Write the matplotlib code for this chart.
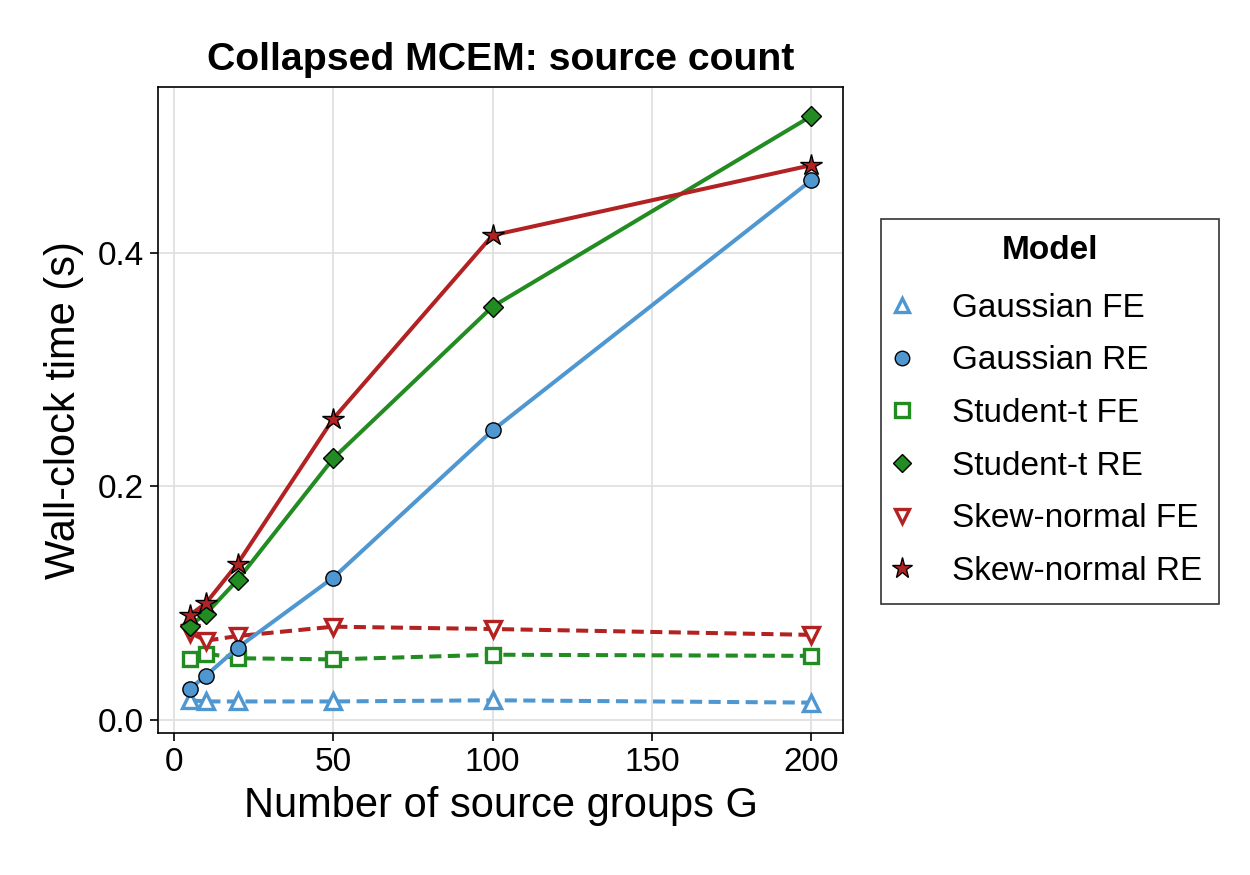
import matplotlib
matplotlib.use("Agg")
import matplotlib.pyplot as plt

# -------------------------------
# Data
# -------------------------------
groups = [5, 10, 20, 50, 100, 200]

gauss_fe = [0.017, 0.016, 0.016, 0.016, 0.017, 0.015]
gauss_re = [0.027, 0.038, 0.062, 0.122, 0.248, 0.462]
stud_fe = [0.052, 0.057, 0.053, 0.052, 0.056, 0.055]
stud_re = [0.081, 0.091, 0.120, 0.224, 0.354, 0.517]
skew_fe = [0.075, 0.068, 0.072, 0.080, 0.078, 0.073]
skew_re = [0.090, 0.100, 0.134, 0.258, 0.415, 0.475]

blue = "#4f97d1"
green = "#228b22"
red = "#b22222"

plt.rcParams["font.family"] = ["Liberation Sans", "DejaVu Sans"]

fig = plt.figure(figsize=(12.5, 8.75), dpi=100)
ax = fig.add_axes([0.1264, 0.1623, 0.548, 0.7383])

lw = 2.9
dash = (0, (3, 1.6))
# fixed effects: dashed, open markers
ax.plot(groups, gauss_fe, ls=dash, lw=lw, color=blue, marker="^",
        ms=11, mfc="white", mec=blue, mew=2.4, label="Gaussian FE", zorder=3)
ax.plot(groups, gauss_re, ls="-", lw=lw, color=blue, marker="o",
        ms=11, mfc=blue, mec="black", mew=1.0, label="Gaussian RE", zorder=4)
ax.plot(groups, stud_fe, ls=dash, lw=lw, color=green, marker="s",
        ms=10, mfc="white", mec=green, mew=2.4, label="Student-t FE", zorder=3)
ax.plot(groups, stud_re, ls="-", lw=lw, color=green, marker="D",
        ms=10, mfc=green, mec="black", mew=1.0, label="Student-t RE", zorder=4)
ax.plot(groups, skew_fe, ls=dash, lw=lw, color=red, marker="v",
        ms=11, mfc="white", mec=red, mew=2.4, label="Skew-normal FE", zorder=3)
ax.plot(groups, skew_re, ls="-", lw=lw, color=red, marker="*",
        ms=16, mfc=red, mec="black", mew=1.0, label="Skew-normal RE", zorder=5)

ax.set_xlim(-5, 210)
ax.set_ylim(-0.011, 0.542)
ax.set_xticks([0, 50, 100, 150, 200])
ax.set_yticks([0.0, 0.2, 0.4])
ax.set_yticklabels(["0.0", "0.2", "0.4"])
ax.grid(True, color="#e0e0e0", lw=1.3)
ax.set_axisbelow(True)
ax.tick_params(labelsize=24, length=6, width=1.2, direction="out",
               top=False, right=False, pad=4)
for s in ax.spines.values():
    s.set_linewidth(1.2)

ax.set_xlabel("Number of source groups G", fontsize=30, labelpad=6)
ax.set_ylabel("Wall-clock time (s)", fontsize=30, labelpad=10)
ax.set_title("Collapsed MCEM: source count", fontsize=28.3, fontweight="bold", pad=12)

leg = ax.legend(loc="center left", bbox_to_anchor=(1.055, 0.498), fontsize=24,
                title="Model", title_fontproperties={"weight": "bold", "size": 24},
                frameon=True, fancybox=False, edgecolor="black",
                handlelength=0.3, handletextpad=1.35, labelspacing=0.65,
                borderpad=0.5, borderaxespad=0, markerscale=0.95)
leg.get_frame().set_linewidth(1.2)
leg._legend_box.sep = 18.9  # room under the title
for h in leg.get_lines():
    h.set_linestyle("none")

fig.savefig("out.png", dpi=100)
plt.close()
